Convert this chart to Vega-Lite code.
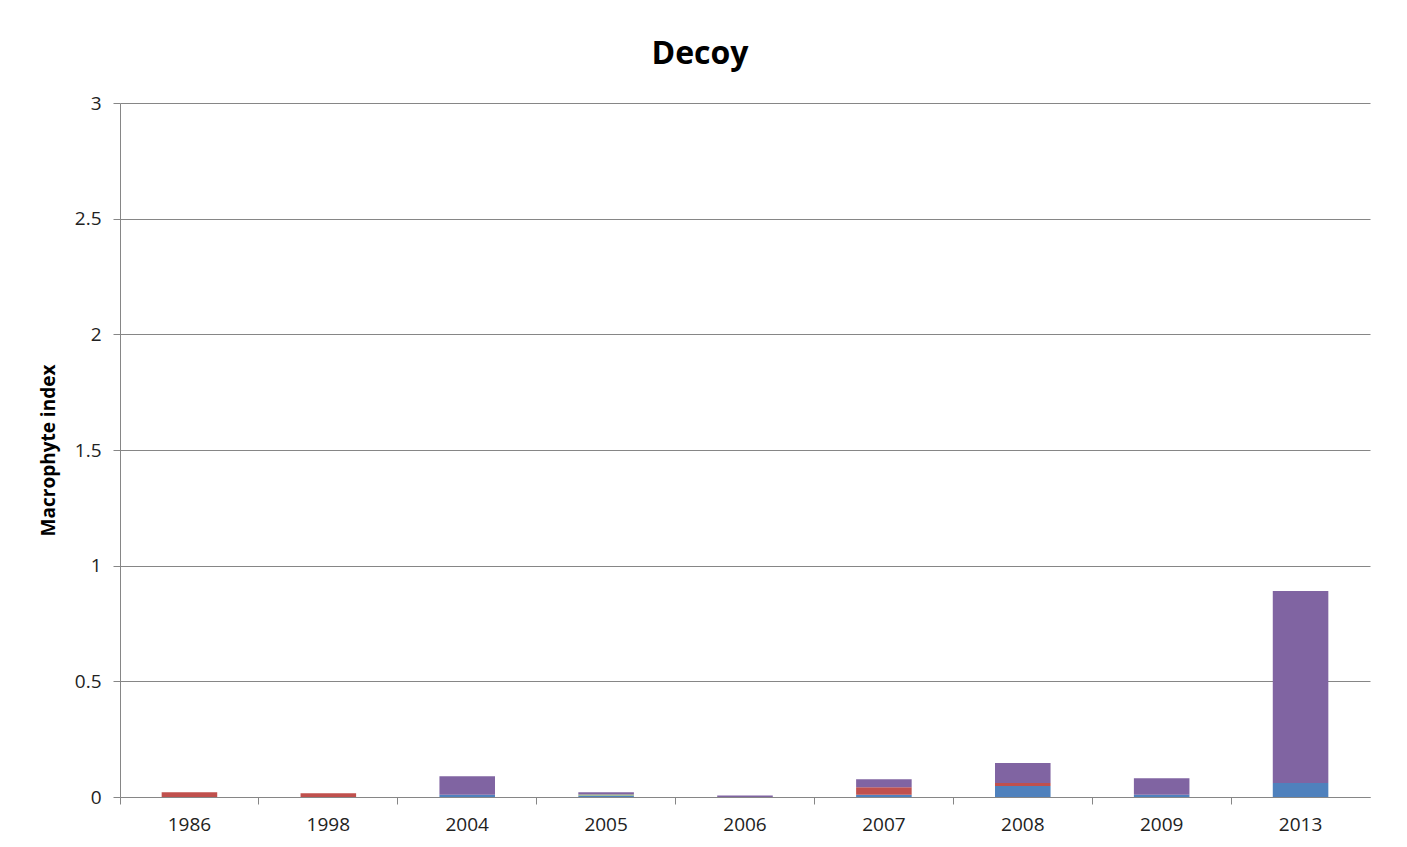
{
  "$schema": "https://vega.github.io/schema/vega-lite/v6.json",
  "width": 1250,
  "height": 694,
  "autosize": {"type": "none"},
  "padding": {"left": 120, "top": 103, "right": 37, "bottom": 50},
  "background": "white",
  "title": {
    "text": "Decoy",
    "font": "Open Sans",
    "fontSize": 32,
    "fontWeight": "bold",
    "color": "#000000",
    "anchor": "middle",
    "dx": -45,
    "offset": 23
  },
  "data": {
    "values": [
      {"year": "1986", "series": "Series2", "value": 0.02},
      {"year": "1998", "series": "Series2", "value": 0.016},
      {"year": "2004", "series": "Series1", "value": 0.01},
      {"year": "2004", "series": "Series4", "value": 0.08},
      {"year": "2005", "series": "Series1", "value": 0.007},
      {"year": "2005", "series": "Series3", "value": 0.004},
      {"year": "2005", "series": "Series4", "value": 0.009},
      {"year": "2006", "series": "Series4", "value": 0.007},
      {"year": "2007", "series": "Series1", "value": 0.01},
      {"year": "2007", "series": "Series2", "value": 0.032},
      {"year": "2007", "series": "Series4", "value": 0.035},
      {"year": "2008", "series": "Series1", "value": 0.048},
      {"year": "2008", "series": "Series2", "value": 0.012},
      {"year": "2008", "series": "Series4", "value": 0.087},
      {"year": "2009", "series": "Series1", "value": 0.01},
      {"year": "2009", "series": "Series4", "value": 0.071},
      {"year": "2013", "series": "Series1", "value": 0.06},
      {"year": "2013", "series": "Series4", "value": 0.83}
    ]
  },
  "mark": {"type": "bar", "stroke": null, "width": {"band": 0.4}},
  "encoding": {
    "x": {
      "field": "year",
      "type": "nominal",
      "sort": null,
      "scale": {"paddingInner": 0, "paddingOuter": 0},
      "axis": {
        "title": null,
        "labelAngle": 0,
        "labelFont": "Open Sans",
        "labelFontSize": 19,
        "labelColor": "#222222",
        "labelPadding": 11,
        "tickSize": 7,
        "tickColor": "#868686",
        "domainColor": "#868686",
        "bandPosition": 0,
        "labelBound": false,
        "grid": false
      }
    },
    "y": {
      "field": "value",
      "type": "quantitative",
      "stack": "zero",
      "scale": {"domain": [0, 3], "nice": false},
      "axis": {
        "title": "Macrophyte index",
        "titleFont": "Open Sans",
        "titleFontSize": 19,
        "titleFontWeight": "bold",
        "titleColor": "#000000",
        "titlePadding": 16,
        "values": [0, 0.5, 1, 1.5, 2, 2.5, 3],
        "format": "~g",
        "labelFont": "Open Sans",
        "labelFontSize": 19,
        "labelColor": "#222222",
        "labelPadding": 12,
        "tickSize": 7,
        "tickColor": "#868686",
        "domainColor": "#868686",
        "gridColor": "#868686",
        "grid": true
      }
    },
    "color": {
      "field": "series",
      "type": "nominal",
      "scale": {
        "domain": ["Series1", "Series2", "Series3", "Series4"],
        "range": ["#4F81BD", "#C0504D", "#9BBB59", "#8064A2"]
      },
      "legend": null
    },
    "order": {"field": "series", "sort": "ascending"}
  },
  "config": {
    "view": {"stroke": null}
  }
}
